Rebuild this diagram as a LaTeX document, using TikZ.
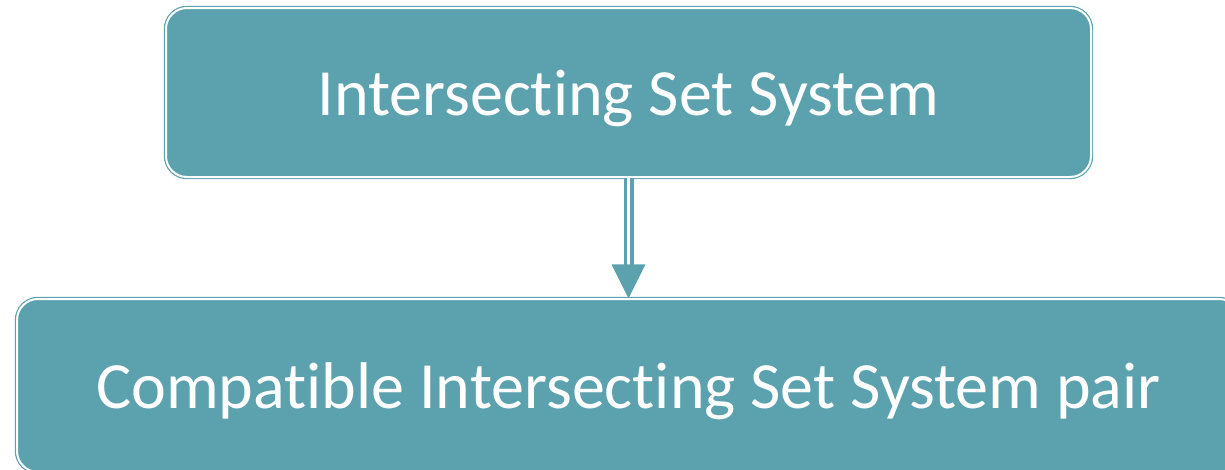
\documentclass[tikz,border=0pt]{standalone}
\usepackage{fontspec}
\setmainfont[Ligatures=NoCommon]{Carlito}
\usetikzlibrary{calc}
\definecolor{boxteal}{RGB}{91,162,174}

\tikzset{
  setbox/.style={rounded corners=21pt, fill=boxteal, draw=boxteal, double=white,
    double distance=2pt, line width=1.2pt, text=white, inner sep=0pt,
    text height=45pt, text depth=0pt,
    font=\fontsize{66}{80}\selectfont},
  shaft/.style={draw=boxteal, double=white, double distance=3pt, line width=3.5pt}
}

\begin{document}
\begin{tikzpicture}[x=1pt,y=-1pt]
			\useasboundingbox (0,0) rectangle (1225,469);
			
			%%%%% boxes %%%%%
			\node[setbox, minimum width=925pt, minimum height=169pt] (iss) at (628.5, 92.5) {Intersecting Set System};
			\node[setbox, minimum width=1223pt, minimum height=173pt] (ciss) at (628.5, 385.5) {Compatible Intersecting Set System pair};
			
			%%%%% arrow %%%%%
			\draw[shaft, shorten >=33pt] (iss.south) -- (iss.south |- ciss.north);
			\fill[boxteal] (iss.south |- ciss.north) -- ++(-17,-34) -- ++(34,0) -- cycle;
		\end{tikzpicture}
\end{document}
